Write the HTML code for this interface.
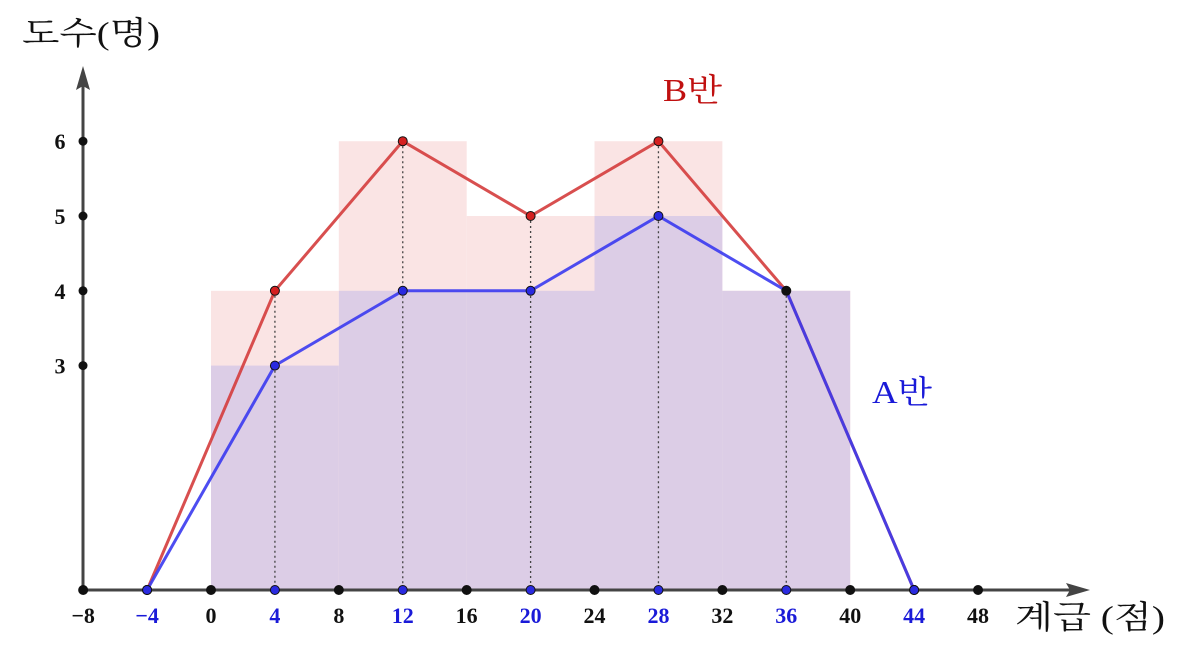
<!DOCTYPE html>
<html><head><meta charset="utf-8"><style>
html,body{margin:0;padding:0;background:#fff;}
svg{display:block;}
text{font-family:"Liberation Serif","Noto Serif CJK SC",serif;}
</style></head><body>
<svg id="chart" width="1190" height="652" viewBox="0 0 1190 652"></svg>
<script>
const classStarts=[0,8,16,24,32];
const classWidth=8;
const countsA=[3,4,4,5,4];
const countsB=[4,6,5,6,4];
const polyX=[-4,4,12,20,28,36,44];
const polyA=[0,3,4,4,5,4,0];
const polyB=[0,4,6,5,6,4,0];
const xTicks=[-8,-4,0,4,8,12,16,20,24,28,32,36,40,44,48];
const blueTicks=[-4,4,12,20,28,36,44];
const yTicks=[3,4,5,6];

const svg=document.getElementById('chart');
const NS='http://www.w3.org/2000/svg';
const X=v=>211+v*15.98;
const Y=v=>590-v*74.8;
function mk(tag,attrs,parent){const e=document.createElementNS(NS,tag);for(const k in attrs)e.setAttribute(k,attrs[k]);(parent||svg).appendChild(e);return e;}

countsB.forEach((c,i)=>{
 const r=mk('rect',{x:X(classStarts[i]),y:Y(c),width:X(classStarts[i]+classWidth)-X(classStarts[i]),height:Y(0)-Y(c),fill:'#fae4e4'});
 
 
});
countsA.forEach((c,i)=>{
 const r=mk('rect',{x:X(classStarts[i]),y:Y(c),width:X(classStarts[i]+classWidth)-X(classStarts[i]),height:Y(0)-Y(c),fill:'#dccde6'});
 
 
});
polyX.forEach((x,i)=>{
 const top=Math.max(polyA[i],polyB[i]);
 if(top>0){
  const l=mk('line',{x1:X(x),x2:X(x),y1:Y(top),y2:Y(0),stroke:'#444','stroke-width':1.3,'stroke-dasharray':'2,3'});
  
  
 }
});
const ax=mk('line',{x1:83,y1:590,x2:1078,y2:590,stroke:'#444','stroke-width':3});


mk('polygon',{points:'1090,590 1066,583 1070,590 1066,597',fill:'#444'});
const ay=mk('line',{x1:83,y1:590,x2:83,y2:78,stroke:'#444','stroke-width':3});


mk('polygon',{points:'83,66 76,90 83,86 90,90',fill:'#444'});
function poly(vals,color,name){
 const p=mk('polyline',{points:polyX.map((x,i)=>X(x)+','+Y(vals[i])).join(' '),fill:'none',stroke:color,'stroke-width':3,'stroke-opacity':0.9});
 
 
}
poly(polyB,'#d43c3c','polygon-b');
poly(polyA,'#3a3af0','polygon-a');
xTicks.forEach(t=>{
 const blue=blueTicks.includes(t);
 const d=mk('circle',{cx:X(t),cy:590,r:4.5,fill:blue?'#2a2ae0':'#111',stroke:'#111','stroke-width':1});
 
 
 const tx=mk('text',{x:X(t),y:623,'text-anchor':'middle','font-size':22,'font-weight':'bold',fill:blue?'#1a1ad8':'#111'});
 tx.textContent=t<0?'\u2212'+(-t):String(t);
 
 
});
yTicks.forEach(t=>{
 const d=mk('circle',{cx:83,cy:Y(t),r:4.5,fill:'#111'});
 
 
 const tx=mk('text',{x:60,y:Y(t)+8,'text-anchor':'middle','font-size':22,'font-weight':'bold',fill:'#111'});
 tx.textContent=String(t);
 
 
});
polyX.forEach((x,i)=>{
 const b=mk('circle',{cx:X(x),cy:Y(polyB[i]),r:4.5,fill:polyB[i]===polyA[i]?'#111':'#d42020',stroke:'#111','stroke-width':1});
 
 
 if(polyA[i]!==polyB[i]||polyA[i]===0){
 const a=mk('circle',{cx:X(x),cy:Y(polyA[i]),r:4.5,fill:'#2a2ae0',stroke:'#111','stroke-width':1});
 
 
 }
});
function lab(txt,x,y,color,size,len,name){const t=mk('text',{x:x,y:y,'font-size':size,fill:color,textLength:len,lengthAdjust:'spacingAndGlyphs'});t.textContent=txt;}
lab('도수(명)',22,44,'#111',32,138,'y-axis-title');
lab('계급 (점)',1015,628,'#111',32,150,'x-axis-title');
lab('B반',663,101,'#c01010',32,59,'label-b');
lab('A반',872,403,'#1a1ad8',32,60,'label-a');
</script>
</body></html>
